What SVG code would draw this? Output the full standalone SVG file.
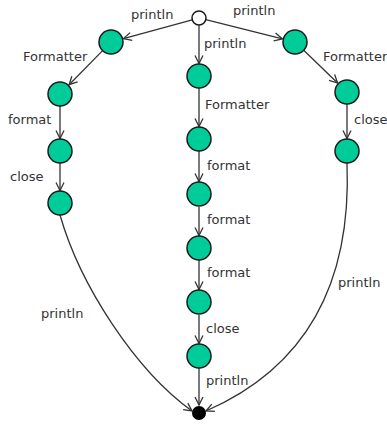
<svg xmlns="http://www.w3.org/2000/svg" width="387" height="431" viewBox="0 0 387 431">
<style>
.n{fill:#00cc99;stroke:#1a1a1a;stroke-width:1.5}
.e{fill:none;stroke:#333;stroke-width:1.3;marker-end:url(#a)}
text{font-family:"DejaVu Sans",sans-serif;font-size:13px;fill:#333}
</style>
<defs>
<marker id="a" markerUnits="userSpaceOnUse" markerWidth="10" markerHeight="10" viewBox="0 0 10 10" refX="9" refY="5" orient="auto">
<path d="M1,1 L9,5 L1,9" fill="none" stroke="#333" stroke-width="1.3"/>
</marker>
</defs>
<rect width="387" height="431" fill="#fff"/>
<g id="connectors">
<line class="e" x1="192.2" y1="19.8" x2="123.5" y2="38.6"/>
<line class="e" x1="102.6" y1="50.6" x2="69.1" y2="84.7"/>
<line class="e" x1="60" y1="106" x2="60" y2="138.5"/>
<line class="e" x1="60" y1="163" x2="60" y2="190.5"/>
<path class="e" d="M60,215 C80,285 135,370 192,411"/>
<line class="e" x1="199" y1="25" x2="199" y2="63.5"/>
<line class="e" x1="199" y1="88" x2="199" y2="126.5"/>
<line class="e" x1="199" y1="151" x2="199" y2="181.5"/>
<line class="e" x1="199" y1="207" x2="199" y2="235.5"/>
<line class="e" x1="199" y1="260" x2="199" y2="289.5"/>
<line class="e" x1="199" y1="315" x2="199" y2="343.5"/>
<line class="e" x1="199" y1="368" x2="199" y2="405"/>
<line class="e" x1="205.8" y1="19.7" x2="282.4" y2="38.9"/>
<line class="e" x1="303.7" y1="50.3" x2="337.6" y2="83"/>
<line class="e" x1="347" y1="104" x2="347" y2="138.5"/>
<path class="e" d="M347,163 C352,290 300,370 206,411"/>
</g>
<g id="start"><circle cx="199" cy="18" r="7" fill="#fff" stroke="#1a1a1a" stroke-width="1.5"/></g>
<g id="l1"><circle class="n" cx="111" cy="42" r="12"/></g>
<g id="l2"><circle class="n" cx="60" cy="94" r="12"/></g>
<g id="l3"><circle class="n" cx="60" cy="151" r="12"/></g>
<g id="l4"><circle class="n" cx="60" cy="203" r="12"/></g>
<g id="c1"><circle class="n" cx="199" cy="76" r="12"/></g>
<g id="c2"><circle class="n" cx="199" cy="139" r="12"/></g>
<g id="c3"><circle class="n" cx="199" cy="194" r="12"/></g>
<g id="c4"><circle class="n" cx="199" cy="248" r="12"/></g>
<g id="c5"><circle class="n" cx="199" cy="302" r="12"/></g>
<g id="c6"><circle class="n" cx="199" cy="356" r="12"/></g>
<g id="r1"><circle class="n" cx="295" cy="42" r="12"/></g>
<g id="r2"><circle class="n" cx="347" cy="92" r="12"/></g>
<g id="r3"><circle class="n" cx="347" cy="151" r="12"/></g>
<g id="end"><circle cx="199" cy="413" r="7" fill="#000"/></g>
<g id="labels">
<text x="131" y="19">println</text>
<text x="233" y="15">println</text>
<text x="204" y="48">println</text>
<text x="23" y="61">Formatter</text>
<text x="205" y="109">Formatter</text>
<text x="323" y="61">Formatter</text>
<text x="8" y="124">format</text>
<text x="354" y="124">close</text>
<text x="10" y="181">close</text>
<text x="207" y="170">format</text>
<text x="207" y="224">format</text>
<text x="207" y="277">format</text>
<text x="206" y="333">close</text>
<text x="206" y="385">println</text>
<text x="41" y="318">println</text>
<text x="338" y="287">println</text>
</g>
</svg>
